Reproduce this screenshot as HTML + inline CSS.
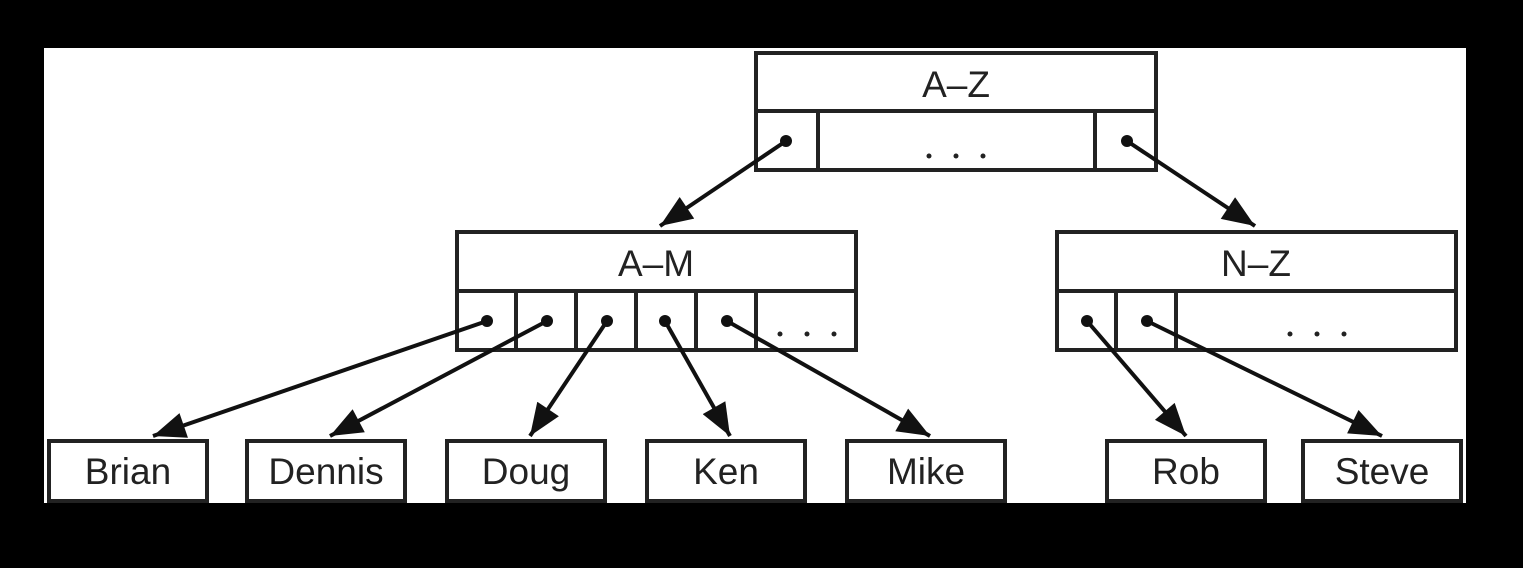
<!DOCTYPE html>
<html><head><meta charset="utf-8"><style>
body{margin:0;background:#000;}
svg{display:block;}
text{font-family:"Liberation Sans",sans-serif;font-size:37px;fill:#222;text-anchor:middle;}
</style></head><body>
<svg width="1523" height="568" viewBox="0 0 1523 568">
<defs><marker id="ah" markerWidth="10" markerHeight="8" refX="9" refY="4" orient="auto" markerUnits="userSpaceOnUse" viewBox="0 0 10 8"><path d="M0,0 L10,4 L0,8 z" fill="#111"/></marker>
<marker id="ah2" viewBox="0 0 10 8" refX="10" refY="4" markerWidth="34" markerHeight="26" orient="auto" markerUnits="userSpaceOnUse"><path d="M0,0 L10,4 L0,8 z" fill="#111"/></marker></defs>
<rect x="44" y="48" width="1422" height="455" fill="#fff"/>
<g fill="none" stroke="#222" stroke-width="4">
<g>
<rect x="756" y="53" width="400" height="117"/><line x1="756" y1="111" x2="1156" y2="111"/><line x1="818" y1="111" x2="818" y2="170"/><line x1="1095" y1="111" x2="1095" y2="170"/></g>
<g>
<rect x="457" y="232" width="399" height="118"/><line x1="457" y1="291" x2="856" y2="291"/><line x1="516" y1="291" x2="516" y2="350"/><line x1="576" y1="291" x2="576" y2="350"/><line x1="636" y1="291" x2="636" y2="350"/><line x1="696" y1="291" x2="696" y2="350"/><line x1="756" y1="291" x2="756" y2="350"/></g>
<g>
<rect x="1057" y="232" width="399" height="118"/><line x1="1057" y1="291" x2="1456" y2="291"/><line x1="1116" y1="291" x2="1116" y2="350"/><line x1="1176" y1="291" x2="1176" y2="350"/></g>
<rect x="49" y="441" width="158" height="60"/>
<rect x="247" y="441" width="158" height="60"/>
<rect x="447" y="441" width="158" height="60"/>
<rect x="647" y="441" width="158" height="60"/>
<rect x="847" y="441" width="158" height="60"/>
<rect x="1107" y="441" width="158" height="60"/>
<rect x="1303" y="441" width="158" height="60"/>
</g>
<g stroke="#111" stroke-width="4" marker-end="url(#ah2)">
<line x1="786" y1="141" x2="660" y2="226"/>
<line x1="1127" y1="141" x2="1255" y2="226"/>
<line x1="487" y1="321" x2="153" y2="436"/>
<line x1="547" y1="321" x2="330" y2="436"/>
<line x1="607" y1="321" x2="530" y2="436"/>
<line x1="665" y1="321" x2="730" y2="436"/>
<line x1="727" y1="321" x2="930" y2="436"/>
<line x1="1087" y1="321" x2="1186" y2="436"/>
<line x1="1147" y1="321" x2="1382" y2="436"/>
</g>
<g fill="#111">
<circle cx="786" cy="141" r="6"/><circle cx="1127" cy="141" r="6"/>
<circle cx="487" cy="321" r="6"/><circle cx="547" cy="321" r="6"/><circle cx="607" cy="321" r="6"/><circle cx="665" cy="321" r="6"/><circle cx="727" cy="321" r="6"/>
<circle cx="1087" cy="321" r="6"/><circle cx="1147" cy="321" r="6"/>
</g>
<g fill="#222">
<circle cx="929" cy="156" r="2.5"/><circle cx="956" cy="156" r="2.5"/><circle cx="983" cy="156" r="2.5"/>
<circle cx="780" cy="334" r="2.5"/><circle cx="807" cy="334" r="2.5"/><circle cx="834" cy="334" r="2.5"/>
<circle cx="1290" cy="334" r="2.5"/><circle cx="1317" cy="334" r="2.5"/><circle cx="1344" cy="334" r="2.5"/>
</g>
<text x="956" y="97">A–Z</text>
<text x="656" y="276">A–M</text>
<text x="1256" y="276">N–Z</text>
<text x="128" y="484">Brian</text>
<text x="326" y="484">Dennis</text>
<text x="526" y="484">Doug</text>
<text x="726" y="484">Ken</text>
<text x="926" y="484">Mike</text>
<text x="1186" y="484">Rob</text>
<text x="1382" y="484">Steve</text>
</svg>
</body></html>
